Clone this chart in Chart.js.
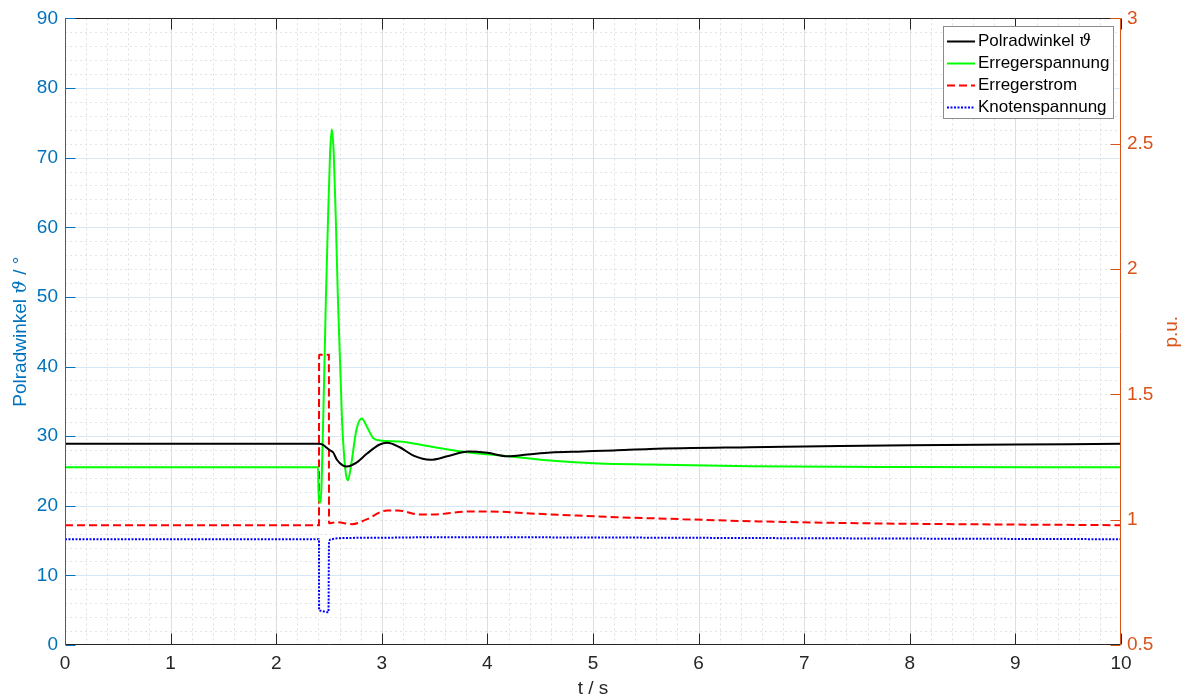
<!DOCTYPE html>
<html>
<head>
<meta charset="utf-8">
<script src="https://cdn.jsdelivr.net/npm/chart.js@4.4.0/dist/chart.umd.min.js"></script>
<style>
  html, body { margin: 0; padding: 0; background: #fff; }
  #wrap { width: 1197px; height: 699px; }
</style>
</head>
<body>
<div id="wrap"><canvas id="myChart" width="1197" height="699"></canvas></div>
<script>
// ---- Messwerte: Zeit in s, Polradwinkel in Grad, Rest in p.u. ----
var polradT   = [0, 2.40, 2.43, 2.51, 2.54, 2.575, 2.63, 2.67, 2.76, 2.86, 2.98, 3.05, 3.17, 3.30, 3.46, 3.62, 3.82, 4.0, 4.19, 4.38, 4.6, 4.9, 5.2, 5.54, 6.49, 7.0, 8.0, 9.0, 10.0];
var polradDeg = [28.9, 28.9, 28.85, 27.95, 27.65, 26.6, 25.8, 25.65, 26.2, 27.5, 28.8, 29.05, 28.4, 27.2, 26.6, 27.1, 27.8, 27.6, 27.1, 27.35, 27.65, 27.8, 27.95, 28.15, 28.4, 28.5, 28.7, 28.8, 28.9];

var erregerSpT  = [0, 2.396, 2.40, 2.41, 2.42, 2.445, 2.47, 2.49, 2.51, 2.527, 2.545, 2.565, 2.585, 2.623, 2.655, 2.68, 2.71, 2.76, 2.81, 2.86, 2.92, 3.0, 3.17, 3.46, 3.83, 4.12, 4.59, 5.06, 5.54, 6.49, 8.0, 10.0];
var erregerSpPU = [1.209, 1.209, 1.12, 1.072, 1.069, 1.40, 1.873, 2.19, 2.46, 2.558, 2.46, 2.19, 1.873, 1.40, 1.20, 1.157, 1.22, 1.36, 1.404, 1.37, 1.325, 1.315, 1.312, 1.292, 1.268, 1.256, 1.236, 1.224, 1.22, 1.213, 1.21, 1.209];

var erregerStT  = [0, 2.405, 2.406, 2.499, 2.50, 2.57, 2.72, 2.85, 3.05, 3.15, 3.36, 3.48, 3.84, 3.96, 4.59, 5.22, 5.85, 6.49, 7.5, 8.5, 10.0];
var erregerStPU = [0.978, 0.978, 1.658, 1.658, 0.986, 0.99, 0.982, 1.0, 1.037, 1.037, 1.021, 1.021, 1.033, 1.033, 1.021, 1.01, 1.002, 0.994, 0.986, 0.982, 0.978];

var knotenT  = [0, 2.405, 2.406, 2.41, 2.495, 2.50, 2.52, 2.58, 3.0, 3.5, 5.0, 7.0, 10.0];
var knotenPU = [0.922, 0.922, 0.639, 0.637, 0.631, 0.91, 0.922, 0.926, 0.928, 0.930, 0.929, 0.926, 0.922];

var seriesNames = ["Polradwinkel \u03d1", "Erregerspannung", "Erregerstrom", "Knotenspannung"];

var FONT = "'Liberation Sans', Arial, Helvetica, sans-serif";
var BLUE_AX = "#0072BD";
var ORANGE_AX = "#D95319";
var DARK = "#262626";

function toPoints(ts, vs) {
  return ts.map(function (t, i) { return { x: t, y: vs[i] }; });
}

function line(ctx, x1, y1, x2, y2) {
  ctx.beginPath();
  ctx.moveTo(x1, y1);
  ctx.lineTo(x2, y2);
  ctx.stroke();
}

// draws text pieces (normal + italic symbol) centred on 0,0
function drawParts(ctx, parts, color) {
  var w = 0;
  parts.forEach(function (p) { ctx.font = p.f; w += ctx.measureText(p.t).width; });
  var x = -w / 2;
  ctx.fillStyle = color;
  ctx.textBaseline = "middle";
  ctx.textAlign = "left";
  parts.forEach(function (p) {
    ctx.font = p.f;
    ctx.fillText(p.t, x, 0);
    x += ctx.measureText(p.t).width;
  });
}

var matlabAxes = {
  id: "matlabAxes",
  beforeDatasetsDraw: function (chart) {
    var ctx = chart.ctx, a = chart.chartArea;
    var xs = chart.scales.x, yl = chart.scales.y;
    ctx.save();
    ctx.lineWidth = 1;

    // minor grid (dotted)
    ctx.setLineDash([2, 3]);
    ctx.strokeStyle = "#e0e0e0";
    for (var i = 1; i < 50; i++) {
      if (i % 5 === 0) continue;
      var px = Math.round(xs.getPixelForValue(i / 5)) + 0.5;
      line(ctx, px, a.top, px, a.bottom);
    }
    ctx.strokeStyle = "#dde6ed";
    for (var j = 1; j < 45; j++) {
      if (j % 5 === 0) continue;
      var py = Math.round(yl.getPixelForValue(j * 2)) + 0.5;
      line(ctx, a.left, py, a.right, py);
    }

    // major grid
    ctx.setLineDash([]);
    ctx.strokeStyle = "#dedede";
    for (i = 1; i < 10; i++) {
      px = Math.round(xs.getPixelForValue(i)) + 0.5;
      line(ctx, px, a.top, px, a.bottom);
    }
    ctx.strokeStyle = "#d6e8f5";
    for (j = 1; j < 9; j++) {
      py = Math.round(yl.getPixelForValue(j * 10)) + 0.5;
      line(ctx, a.left, py, a.right, py);
    }
    ctx.restore();
  },
  afterDatasetsDraw: function (chart) {
    var ctx = chart.ctx, a = chart.chartArea;
    var xs = chart.scales.x, yl = chart.scales.y, yr = chart.scales.y2;
    var L = Math.round(a.left) + 0.5, R = Math.round(a.right) - 0.5;
    var T = Math.round(a.top) + 0.5, B = Math.round(a.bottom) - 0.5;
    ctx.save();
    ctx.lineWidth = 1;
    ctx.setLineDash([]);

    // top / bottom box lines and x ticks (inward)
    ctx.strokeStyle = DARK;
    line(ctx, L, T, R, T);
    line(ctx, L, B, R, B);
    xs.ticks.forEach(function (t) {
      var px = Math.round(xs.getPixelForValue(t.value)) + 0.5;
      line(ctx, px, B, px, B - 11);
      line(ctx, px, T, px, T + 11);
    });

    // left axis
    ctx.strokeStyle = BLUE_AX;
    line(ctx, L, T, L, B);
    yl.ticks.forEach(function (t) {
      var py = Math.round(yl.getPixelForValue(t.value)) + 0.5;
      line(ctx, L, py, L + 10, py);
    });

    // right axis
    ctx.strokeStyle = ORANGE_AX;
    line(ctx, R, T, R, B);
    yr.ticks.forEach(function (t) {
      var py = Math.round(yr.getPixelForValue(t.value)) + 0.5;
      line(ctx, R, py, R - 10, py);
    });
    ctx.restore();
  },
  afterDraw: function (chart) {
    var ctx = chart.ctx, a = chart.chartArea;
    var midY = (a.top + a.bottom) / 2;
    ctx.save();

    // axis titles
    ctx.save();
    ctx.translate(21, midY);
    ctx.rotate(-Math.PI / 2);
    drawParts(ctx, [
      { t: "Polradwinkel ", f: "19px " + FONT },
      { t: "\u03d1", f: "italic 19px 'DejaVu Serif', serif" },
      { t: " / \u00b0", f: "19px " + FONT }
    ], BLUE_AX);
    ctx.restore();

    ctx.save();
    ctx.translate(1172, midY);
    ctx.rotate(-Math.PI / 2);
    drawParts(ctx, [{ t: "p.u.", f: "19px " + FONT }], ORANGE_AX);
    ctx.restore();

    ctx.save();
    ctx.translate((a.left + a.right) / 2, 689);
    drawParts(ctx, [{ t: "t / s", f: "19px " + FONT }], DARK);
    ctx.restore();

    // legend box
    var lx = 943.5, ly = 26.5, lw = 170, lh = 92;
    ctx.fillStyle = "#fff";
    ctx.fillRect(lx, ly, lw, lh);
    ctx.strokeStyle = "#8c8c8c";
    ctx.lineWidth = 1;
    ctx.setLineDash([]);
    ctx.strokeRect(lx, ly, lw, lh);

    chart.data.datasets.forEach(function (ds, i) {
      var cy = 41.5 + i * 22;
      ctx.strokeStyle = ds.borderColor;
      ctx.lineWidth = ds.borderWidth;
      ctx.setLineDash(ds.borderDash || []);
      line(ctx, 947, cy, 975, cy);
      ctx.setLineDash([]);

      var parts = ds.label.split(" \u03d1");
      var x = 978;
      ctx.fillStyle = "#000";
      ctx.textBaseline = "middle";
      ctx.textAlign = "left";
      ctx.font = "17px " + FONT;
      ctx.fillText(parts[0], x, cy);
      if (parts.length > 1) {
        x += ctx.measureText(parts[0] + " ").width;
        ctx.font = "italic 17px 'DejaVu Serif', serif";
        ctx.fillText("\u03d1", x, cy);
      }
    });
    ctx.restore();
  }
};

var ctx = document.getElementById("myChart").getContext("2d");

var myChart = new Chart(ctx, {
  type: "line",
  plugins: [matlabAxes],
  data: {
    datasets: [{
        label: seriesNames[0],
        data: toPoints(polradT, polradDeg),
        yAxisID: "y",
        borderColor: "#000000",
        borderWidth: 2,
        pointRadius: 0,
        cubicInterpolationMode: "monotone"
      },
      {
        label: seriesNames[1],
        data: toPoints(erregerSpT, erregerSpPU),
        yAxisID: "y2",
        borderColor: "#00ff00",
        borderWidth: 2,
        pointRadius: 0,
        cubicInterpolationMode: "monotone"
      },
      {
        label: seriesNames[2],
        data: toPoints(erregerStT, erregerStPU),
        yAxisID: "y2",
        borderColor: "#ff0000",
        borderWidth: 2,
        borderDash: [8, 4],
        pointRadius: 0,
        cubicInterpolationMode: "monotone"
      },
      {
        label: seriesNames[3],
        data: toPoints(knotenT, knotenPU),
        yAxisID: "y2",
        borderColor: "#0000ff",
        borderWidth: 2,
        borderDash: [2, 1.5],
        pointRadius: 0,
        cubicInterpolationMode: "monotone"
      }
    ]
  },
  options: {
    responsive: false,
    animation: false,
    devicePixelRatio: 1,
    layout: { padding: { top: 17, left: 0, right: 0, bottom: 0 } },
    plugins: {
      legend: { display: false },
      tooltip: { enabled: false }
    },
    scales: {
      x: {
        type: "linear",
        min: 0,
        max: 10,
        grid: { display: false, drawTicks: false },
        border: { display: false },
        ticks: {
          stepSize: 1,
          maxRotation: 0,
          padding: 7,
          color: DARK,
          font: { family: FONT, size: 19 }
        },
        afterFit: function (s) { s.height = 54; }
      },
      y: {
        position: "left",
        min: 0,
        max: 90,
        grid: { display: false, drawTicks: false },
        border: { display: false },
        ticks: {
          stepSize: 10,
          padding: 7,
          color: BLUE_AX,
          font: { family: FONT, size: 19 }
        },
        afterFit: function (s) { s.width = 65; }
      },
      y2: {
        position: "right",
        min: 0.5,
        max: 3,
        grid: { display: false, drawTicks: false },
        border: { display: false },
        ticks: {
          stepSize: 0.5,
          padding: 6,
          color: ORANGE_AX,
          font: { family: FONT, size: 19 },
          callback: function (v) { return String(Math.round(v * 10) / 10); }
        },
        afterFit: function (s) { s.width = 76; }
      }
    }
  }
});
</script>
</body>
</html>
